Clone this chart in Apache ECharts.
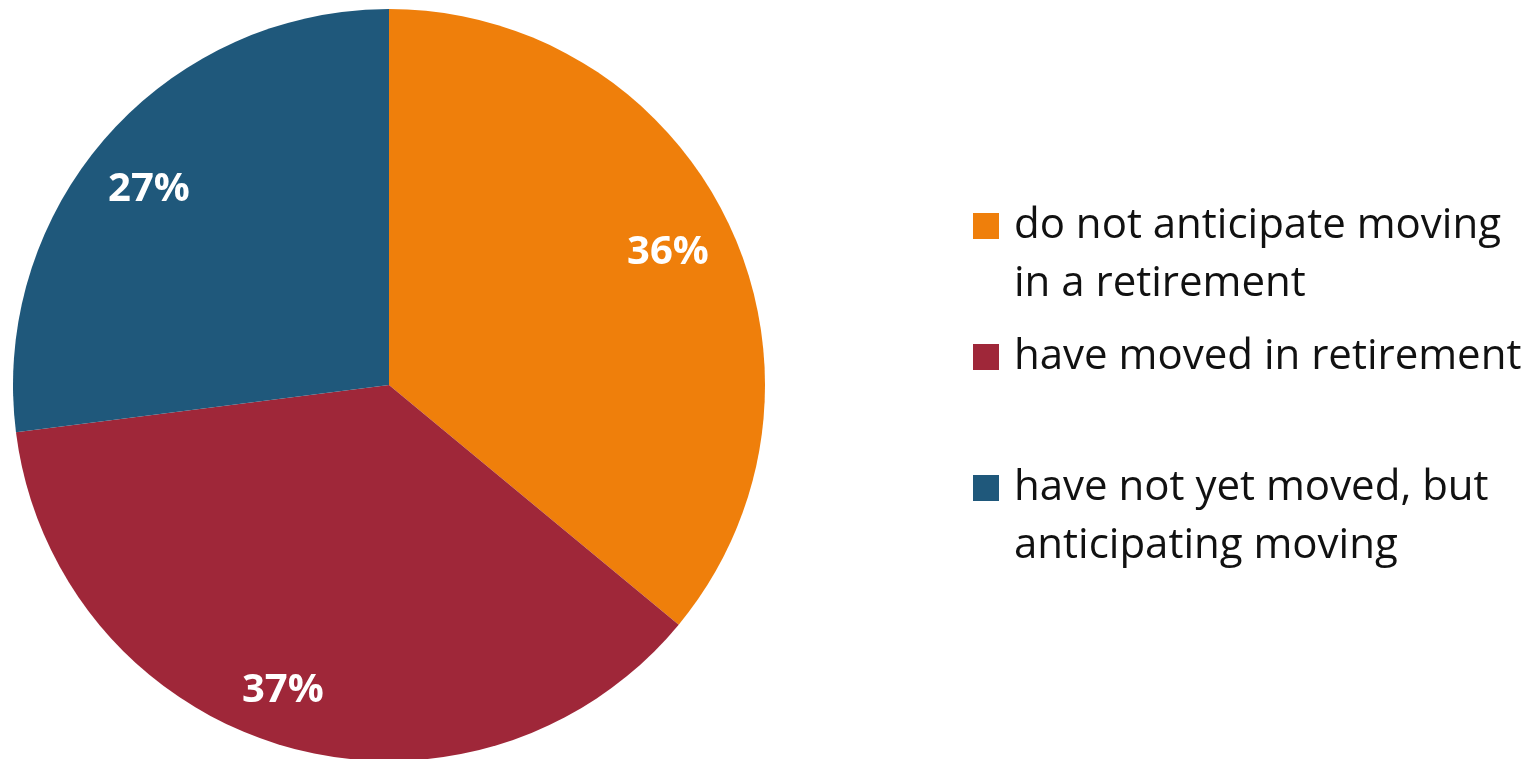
<!DOCTYPE html>
<html>
<head>
<meta charset="utf-8">
<script src="https://cdn.jsdelivr.net/npm/echarts@6/dist/echarts.min.js"></script>
<style>
  html, body { margin: 0; padding: 0; background: #ffffff; }
  #chart { width: 1538px; height: 759px; }
</style>
</head>
<body>
<div id="chart"></div>
<script>
// Retirement moving status, share of respondents (%)
const categories = [
  'do not anticipate moving\nin a retirement',
  'have moved in retirement',
  'have not yet moved, but\nanticipating moving'
];
const shares = [36, 37, 27];
const colors = ['#EF7F0B', '#9F2739', '#1F587B'];

const FONT = '"Open Sans", Lato, sans-serif';
const CX = 389, CY = 385, R = 376;
// small nudges for the percentage labels inside each slice
const labelNudges = [[-7, 2], [-18, 2], [-3, 14]];

const pieData = categories.map((name, i) => ({
  name: name,
  value: shares[i],
  itemStyle: { color: colors[i] }
}));

const chart = echarts.init(document.getElementById('chart'), null, { renderer: 'canvas' });
chart.setOption({
  backgroundColor: '#ffffff',
  animation: false,
  color: colors,
  legend: {
    orient: 'vertical',
    left: 973,
    top: 139,
    padding: 0,
    itemGap: 15,
    itemWidth: 26,
    itemHeight: 26,
    icon: 'rect',
    selectedMode: false,
    data: categories,
    // a blank first line keeps the swatch level with the first text line
    formatter: name => (name.indexOf('\n') >= 0 ? '\n' + name : name),
    textStyle: {
      fontFamily: FONT,
      fontSize: 42,
      lineHeight: 58,
      color: '#111111',
      padding: [0, 0, 0, 10]
    }
  },
  series: [
    {
      // the pie itself
      type: 'pie',
      center: [CX, CY],
      radius: [0, R],
      startAngle: 90,
      clockwise: true,
      label: { show: false },
      labelLine: { show: false },
      itemStyle: { borderWidth: 0 },
      emphasis: { disabled: true },
      data: pieData
    },
    {
      // transparent ring that carries the percentage labels further out
      type: 'pie',
      center: [CX, CY],
      radius: [250, R],
      startAngle: 90,
      clockwise: true,
      silent: true,
      itemStyle: { color: 'rgba(0,0,0,0)', borderWidth: 0 },
      label: {
        show: true,
        position: 'inside',
        formatter: '{c}%',
        color: '#ffffff',
        fontFamily: FONT,
        fontWeight: 'bold',
        fontSize: 40
      },
      labelLine: { show: false },
      emphasis: { disabled: true },
      data: categories.map((name, i) => ({
        name: name,
        value: shares[i],
        label: { offset: labelNudges[i] }
      }))
    }
  ]
});
</script>
</body>
</html>
